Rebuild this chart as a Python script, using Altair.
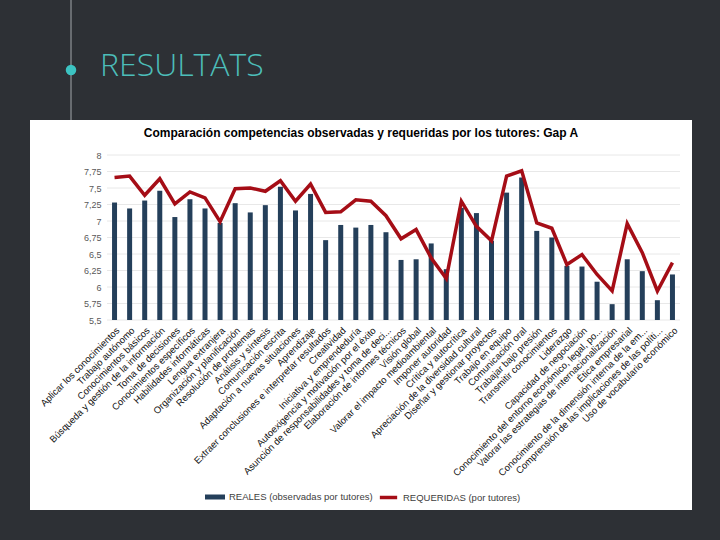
import altair as alt
import pandas as pd

slide_title = "RESULTATS"
chart_title = "Comparación competencias observadas y requeridas por los tutores: Gap A"
serie_reales = "REALES (observadas por tutores)"
serie_requeridas = "REQUERIDAS (por tutores)"

categories = [
    "Aplicar los conocimientos",
    "Trabajo autónomo",
    "Conocimientos básicos",
    "Búsqueda y gestión de la información",
    "Toma de decisiones",
    "Conocimientos específicos",
    "Habilidades informáticas",
    "Lengua extranjera",
    "Organización y planificación",
    "Resolución de problemas",
    "Análisis y síntesis",
    "Comunicación escrita",
    "Adaptación a nuevas situaciones",
    "Aprendizaje",
    "Extraer conclusiones e interpretar resultados",
    "Creatividad",
    "Iniciativa y emprendeduría",
    "Autoexigencia y motivación por el éxito",
    "Asunción de responsabilidades y toma de deci...",
    "Elaboración de informes técnicos",
    "Visión global",
    "Valorar el impacto medioambiental",
    "Imponer autoridad",
    "Crítica y autocrítica",
    "Apreciación de la diversidad cultural",
    "Diseñar y gestionar proyectos",
    "Trabajo en equipo",
    "Comunicación oral",
    "Trabajar bajo presión",
    "Transmitir conocimientos",
    "Liderazgo",
    "Capacidad de negociación",
    "Conocimiento del entorno económico, legal, po...",
    "Valorar las estrategias de internacionalización",
    "Ética empresarial",
    "Conocimiento de la dimensión interna de la em...",
    "Comprensión de las implicaciones de las políti...",
    "Uso de vocabulario económico",
]

reales = [
    7.28, 7.19, 7.31, 7.46, 7.06, 7.33, 7.19, 6.97, 7.27, 7.13,
    7.24, 7.52, 7.16, 7.41, 6.71, 6.94, 6.90, 6.94, 6.83, 6.41,
    6.42, 6.66, 6.27, 7.20, 7.12, 6.70, 7.43, 7.66, 6.85, 6.75,
    6.32, 6.31, 6.08, 5.74, 6.42, 6.24, 5.80, 6.19,
]

requeridas = [
    7.66, 7.68, 7.39, 7.64, 7.26, 7.44, 7.35, 6.99, 7.49, 7.50,
    7.45, 7.61, 7.30, 7.56, 7.13, 7.14, 7.32, 7.30, 7.08, 6.73,
    6.87, 6.44, 6.13, 7.30, 6.92, 6.70, 7.68, 7.76, 6.97, 6.89,
    6.34, 6.49, 6.19, 5.94, 6.96, 6.52, 5.94, 6.37,
]

y_ticks = [5.5, 5.75, 6.0, 6.25, 6.5, 6.75, 7.0, 7.25, 7.5, 7.75, 8.0]

df = pd.DataFrame({"cat": categories, "real": reales, "req": requeridas})
df["s1"] = serie_reales
df["s2"] = serie_requeridas
one = pd.DataFrame({"k": [0]})

FONT = "Liberation Sans"

xenc = alt.X(
    "cat:N",
    sort=categories,
    title=None,
    scale=alt.Scale(paddingInner=0, paddingOuter=0),
    axis=alt.Axis(
        labelAngle=-45,
        labelFontSize=9.5,
        labelFont=FONT,
        labelColor="#111111",
        labelPadding=5,
        labelLimit=400,
        ticks=False,
        domain=False,
        grid=False,
        zindex=1,
    ),
)

yscale = alt.Scale(domain=[5.5, 8], zero=False, nice=False)
yaxis = alt.Axis(
    values=y_ticks,
    labelExpr="replace(format(datum.value, ''), '.', ',')",
    labelFontSize=9,
    labelFont=FONT,
    labelColor="#595959",
    labelPadding=6,
    ticks=False,
    domain=False,
    grid=False,
    zindex=1,
    title=None,
)

box = alt.Chart(one).mark_rect(color="white").encode(
    x=alt.value(-77), x2=alt.value(585), y=alt.value(-35), y2=alt.value(355)
)

grid = alt.Chart(pd.DataFrame({"v": y_ticks})).mark_rule(
    color="#e8e8e8", strokeWidth=1
).encode(y=alt.Y("v:Q", scale=yscale, axis=yaxis))

bars = alt.Chart(df).mark_bar(size=5).encode(
    x=xenc,
    y=alt.Y("real:Q", scale=yscale, axis=yaxis),
    y2=alt.datum(5.5),
    color=alt.Color(
        "s1:N",
        scale=alt.Scale(domain=[serie_reales], range=["#243f5a"]),
        legend=alt.Legend(
            title=None,
            orient="none",
            legendX=98,
            legendY=332,
            symbolType="M-1,-0.25H1V0.25H-1Z",
            symbolSize=400,
            symbolStrokeWidth=0,
            labelFontSize=9.5,
            labelFont=FONT,
            labelColor="#404040",
            labelOffset=4,
        ),
    ),
)

line = alt.Chart(df).mark_line(strokeWidth=3.5).encode(
    x=xenc,
    y=alt.Y("req:Q", scale=yscale, axis=yaxis),
    stroke=alt.Stroke(
        "s2:N",
        scale=alt.Scale(domain=[serie_requeridas], range=["#a50d16"]),
        legend=alt.Legend(
            title=None,
            orient="none",
            legendX=271,
            legendY=332,
            symbolType="stroke",
            symbolSize=300,
            symbolStrokeWidth=3.5,
            labelFontSize=9.5,
            labelFont=FONT,
            labelColor="#404040",
            labelOffset=4,
        ),
    ),
)

title_txt = alt.Chart(pd.DataFrame({"t": [chart_title]})).mark_text(
    font=FONT, fontSize=12, fontWeight="bold", color="#000000",
    align="center", baseline="middle"
).encode(x=alt.value(254), y=alt.value(-22), text="t:N")

slide_txt = alt.Chart(pd.DataFrame({"t": [slide_title]})).mark_text(
    font="Open Sans", fontSize=32, fontWeight=300, color="#4cbdb9",
    align="left", baseline="alphabetic"
).encode(x=alt.value(-7), y=alt.value(-79), text="t:N")

vline = alt.Chart(one).mark_rule(color="#a3a7ac", strokeWidth=1).encode(
    x=alt.value(-36), y=alt.value(-155), y2=alt.value(-35)
)

dot = alt.Chart(one).mark_point(filled=True, shape="circle", size=110, color="#3cc3c2", opacity=1).encode(
    x=alt.value(-36), y=alt.value(-85)
)

chart = alt.layer(box, grid, bars, line, title_txt, slide_txt, vline, dot).properties(
    width=573,
    height=165,
    padding={"left": 107, "top": 155, "right": 40, "bottom": 220},
    autosize=alt.AutoSizeParams(type="none"),
).configure(background="#2d3035").configure_view(stroke="transparent")

chart.save(
    "out.html",
    embed_options={
        "renderer": "svg",
        "actions": False,
        "defaultStyle": "body{margin:0;padding:0;background:#2d3035;overflow:hidden}",
    },
)
